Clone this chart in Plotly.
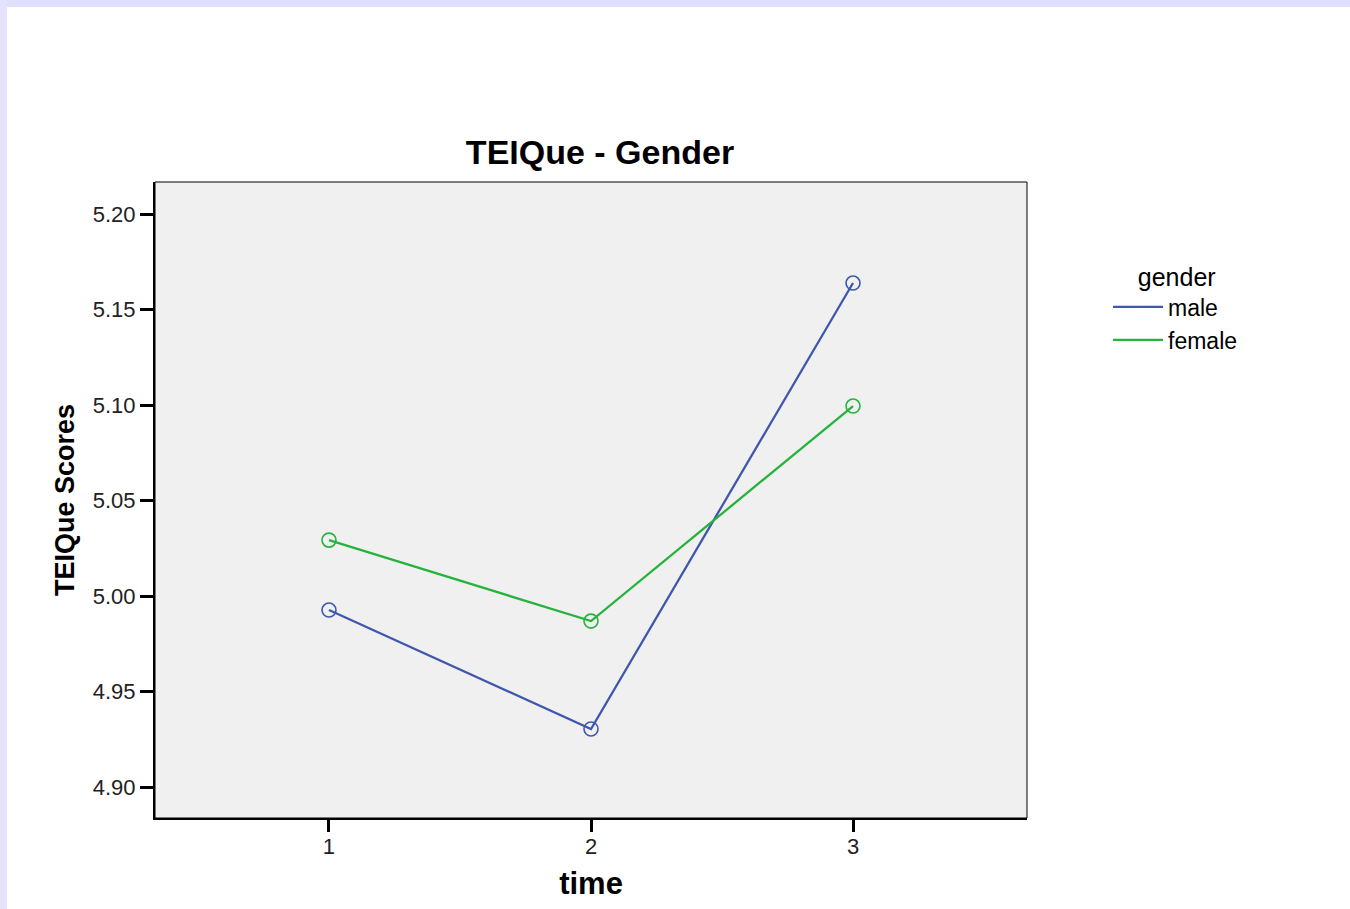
import plotly.graph_objects as go

time = [1, 2, 3]
male = [4.9927, 4.9304, 5.1639]
female = [5.0293, 4.9869, 5.0995]
series_names = ["male", "female"]
colors = ["#3f57ad", "#26b33c"]
yticks = [4.90, 4.95, 5.00, 5.05, 5.10, 5.15, 5.20]

W, H = 1350, 909
L, R, T, B = 155, 323, 182, 91
pw, ph = W - L - R, H - T - B

FONT = "Arial, Liberation Sans, sans-serif"

fig = go.Figure()
for name, vals, c in zip(series_names, [male, female], colors):
    fig.add_trace(go.Scatter(x=time, y=vals, mode="lines", name=name,
                             line=dict(color=c, width=2.3)))
for name, vals, c in zip(series_names, [male, female], colors):
    fig.add_trace(go.Scatter(x=time, y=vals, mode="markers", showlegend=False,
                             marker=dict(symbol="circle-open", size=14,
                                         color=c, line=dict(width=1.6, color=c))))

# frame top/right thin lines
fig.add_shape(type="rect", xref="paper", yref="paper", x0=0, x1=1, y0=0, y1=1,
              line=dict(color="black", width=1), fillcolor="rgba(0,0,0,0)", layer="above")
# decorative border bands
fig.add_shape(type="rect", xref="paper", yref="paper",
              x0=-L / pw, x1=(W - L) / pw, y0=1 + (T - 7) / ph, y1=1 + T / ph,
              line=dict(width=0), fillcolor="#dfe0fd", layer="below")
fig.add_shape(type="rect", xref="paper", yref="paper",
              x0=-L / pw, x1=-(L - 7) / pw, y0=-B / ph, y1=1 + T / ph,
              line=dict(width=0), fillcolor="#e4e3fb", layer="below")

fig.update_layout(
    width=W, height=H,
    margin=dict(l=L, r=R, t=T, b=B),
    paper_bgcolor="white", plot_bgcolor="#f0f0f0",
    font=dict(family=FONT, color="black"),
    title=dict(text="<b>TEIQue - Gender</b>", x=(L + pw / 2 + 9) / W, xanchor="center",
               y=1 - 152 / H, yanchor="middle", font=dict(size=34, family=FONT)),
    xaxis=dict(range=[0.336, 3.664], tickvals=time, ticktext=[str(t) for t in time],
               showgrid=False, zeroline=False, showline=True, linecolor="black", linewidth=2,
               ticks="outside", ticklen=12, tickwidth=2.5, tickcolor="black",
               ticklabelstandoff=-4,
               tickfont=dict(size=22, family=FONT, color="#222"),
               title=dict(text="<b>time</b>", font=dict(size=31, family=FONT), standoff=14)),
    yaxis=dict(range=[4.8838, 5.2168], tickvals=yticks, ticktext=[f"{v:.2f}" for v in yticks],
               showgrid=False, zeroline=False, showline=True, linecolor="black", linewidth=2,
               ticks="outside", ticklen=13, tickwidth=2.5, tickcolor="black",
               tickfont=dict(size=22, family=FONT, color="#222"),
               title=dict(text="<b>TEIQue Scores</b>", font=dict(size=27, family=FONT), standoff=10)),
    legend=dict(x=(1108 - L) / pw, xanchor="left", y=1 - (253 - T) / ph, yanchor="top",
                title=dict(text="    gender", font=dict(size=25, family=FONT)),
                font=dict(size=23, family=FONT), bgcolor="rgba(0,0,0,0)",
                itemwidth=50, tracegroupgap=0),
    showlegend=True,
)

fig.write_html("out.html", config={"displayModeBar": False},
               post_script="document.body.style.margin='0';")
